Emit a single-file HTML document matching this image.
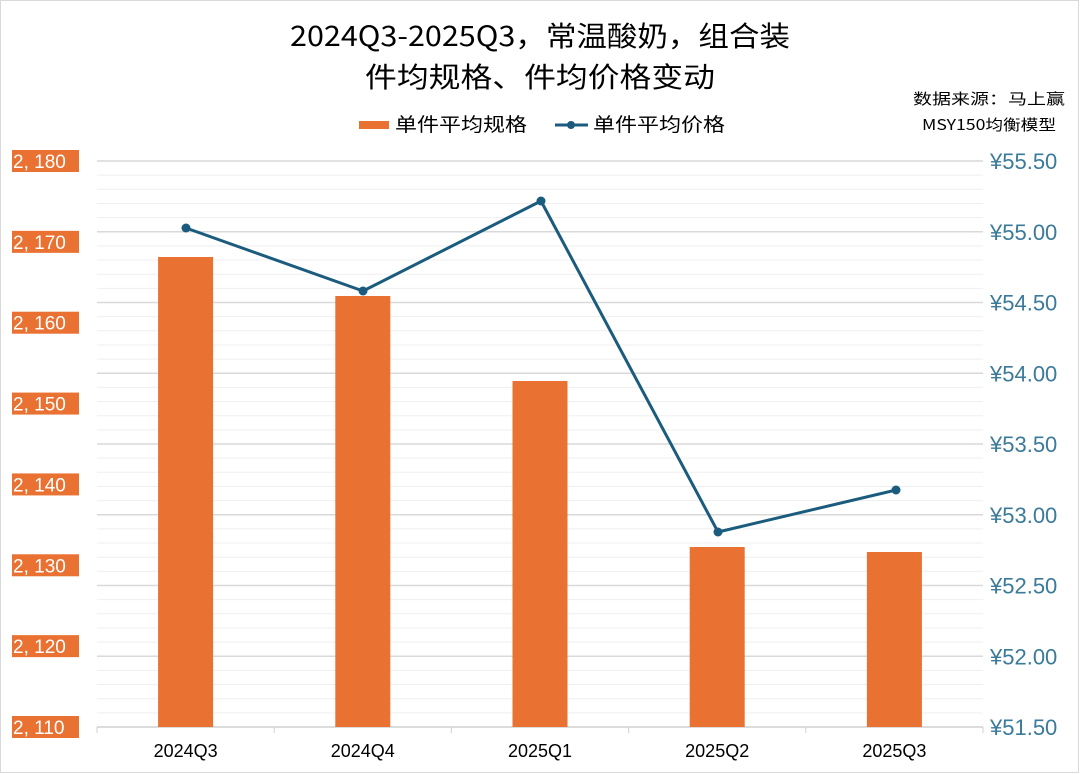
<!DOCTYPE html>
<html><head><meta charset="utf-8"><style>
html,body{margin:0;padding:0;background:#fff}
svg{display:block}
text{font-family:"Liberation Sans","Noto Sans CJK SC",sans-serif}
.cn{font-family:"WenQuanYi Zen Hei","Noto Sans CJK SC",sans-serif}
</style></head><body>
<svg width="1080" height="774" viewBox="0 0 1080 774" xmlns="http://www.w3.org/2000/svg">
<rect x="0.5" y="0.5" width="1078" height="772" fill="#fff" stroke="#d9d9d9"/>
<text class="cn" x="540" y="46" text-anchor="middle" font-size="28" textLength="500" lengthAdjust="spacingAndGlyphs" fill="#000">2024Q3-2025Q3，常温酸奶，组合装</text>
<text class="cn" x="540" y="87" text-anchor="middle" font-size="28" textLength="350" lengthAdjust="spacingAndGlyphs" fill="#000">件均规格、件均价格变动</text>
<rect x="359" y="121" width="30" height="8" fill="#e97132"/>
<text class="cn" x="395" y="131" font-size="19" textLength="132" lengthAdjust="spacingAndGlyphs">单件平均规格</text>
<line x1="555" y1="125" x2="588" y2="125" stroke="#1b5c7e" stroke-width="3"/>
<circle cx="571" cy="125" r="4" fill="#1b5c7e"/>
<text class="cn" x="593" y="131" font-size="19" textLength="132" lengthAdjust="spacingAndGlyphs">单件平均价格</text>
<text class="cn" x="1065" y="104" text-anchor="end" font-size="15" textLength="152" lengthAdjust="spacingAndGlyphs">数据来源：马上赢</text>
<text class="cn" x="1056" y="130" text-anchor="end" font-size="15" textLength="134" lengthAdjust="spacingAndGlyphs">MSY150均衡模型</text>
<g id="grid"></g>
<g id="content"></g>
<script>
var NS="http://www.w3.org/2000/svg";
function el(t,a,p,txt){var e=document.createElementNS(NS,t);for(var k in a)e.setAttribute(k,a[k]);if(txt!=null)e.textContent=txt;(p||document.getElementById('content')).appendChild(e);return e;}
var g=document.getElementById('grid');
var x0=97,x1=983,yt=161,yb=727;
var step=(yb-yt)/40;
for(var i=0;i<40;i++){var y=yt+i*step;var major=(i%5==0);
 el('line',{x1:x0,x2:x1,y1:y,y2:y,stroke:major?'#d9d9d9':'#efefef','stroke-width':major?1.5:1},g);}
el('line',{x1:x0,x2:x1,y1:yb,y2:yb,stroke:'#d0d0d0','stroke-width':1.5},g);
var cw=(x1-x0)/5;
for(var i=0;i<=5;i++){var x=x0+i*cw;el('line',{x1:x,x2:x,y1:yb,y2:yb+6,stroke:'#d0d0d0'},g);}
var rl=['¥55.50','¥55.00','¥54.50','¥54.00','¥53.50','¥53.00','¥52.50','¥52.00','¥51.50'];
for(var i=0;i<9;i++){el('text',{x:990,y:yt+i*step*5+8,'font-size':22,fill:'#3b7a9a'},null,rl[i]);}
var ll=['2, 180','2, 170','2, 160','2, 150','2, 140','2, 130','2, 120','2, 110'];
var ls=(yb-yt)/7;
for(var i=0;i<8;i++){var c=yt+i*ls;el('rect',{x:12,y:c-11,width:67,height:22,fill:'#e97132'});
 el('text',{x:13,y:c+7,'font-size':19,fill:'#fff'},null,ll[i]);}
var cats=['2024Q3','2024Q4','2025Q1','2025Q2','2025Q3'];
var tops=[257,296,381,547,552];
for(var i=0;i<5;i++){var cx=x0+cw*(i+0.5);
 el('rect',{x:cx-27.5,y:tops[i],width:55,height:yb-tops[i],fill:'#e97132'});
 el('text',{x:cx,y:757,'text-anchor':'middle','font-size':18,fill:'#000'},null,cats[i]);}
var pts=[[186,228],[363,291],[541,201],[718,532],[896,490]];
el('polyline',{points:pts.map(function(p){return p.join(',')}).join(' '),fill:'none',stroke:'#1b5c7e','stroke-width':3,'stroke-linejoin':'round'});
pts.forEach(function(p){el('circle',{cx:p[0],cy:p[1],r:4.5,fill:'#1b5c7e'});});
</script>
</svg>
</body></html>
